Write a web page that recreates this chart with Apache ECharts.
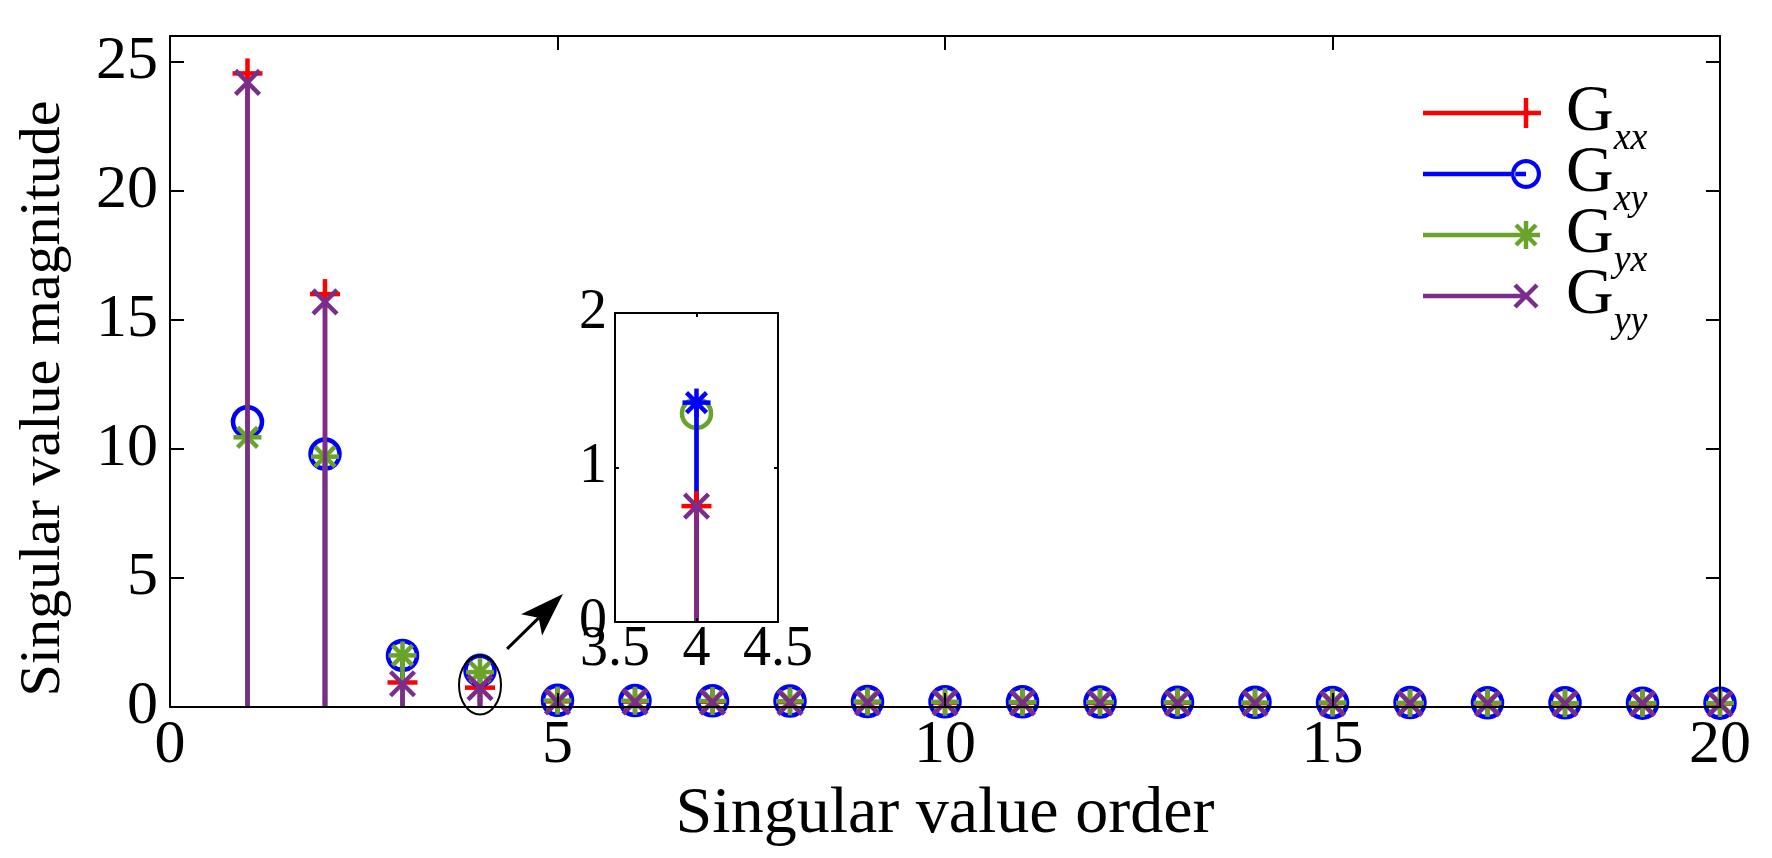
<!DOCTYPE html>
<html><head><meta charset="utf-8">
<script src="https://cdn.jsdelivr.net/npm/echarts@6/dist/echarts.min.js"></script>
<style>html,body{margin:0;padding:0;background:#fff}#c{width:1772px;height:858px}</style>
</head><body><div id="c"></div>
<script>
// ---------------- data ----------------
const orders = [1,2,3,4,5,6,7,8,9,10,11,12,13,14,15,16,17,18,19,20];
const Gxx = [24.55,16.0,0.95,0.75,0.22,0.21,0.20,0.19,0.18,0.17,0.17,0.16,0.16,0.15,0.15,0.14,0.14,0.14,0.13,0.13];
const Gxy = [11.05,9.8,2.0,1.42,0.26,0.25,0.24,0.23,0.21,0.20,0.20,0.19,0.18,0.18,0.17,0.17,0.16,0.16,0.15,0.15];
const Gyx = [10.45,9.7,2.0,1.35,0.25,0.24,0.23,0.22,0.21,0.20,0.19,0.19,0.18,0.17,0.17,0.16,0.16,0.15,0.15,0.15];
const Gyy = [24.2,15.7,0.9,0.75,0.20,0.20,0.19,0.18,0.17,0.17,0.16,0.16,0.15,0.15,0.14,0.14,0.13,0.13,0.13,0.12];
const seriesNames = ['Gxx','Gxy','Gyx','Gyy'];
const insetOrder = 4;              // the zoomed singular value order
const insetXRange = [3.5, 4.5];
const insetYRange = [0, 2];
// annotation anchors (data coords of main plot)
const ellipseCenter = [4, 0.85];
const arrowFrom = [4.35, 2.25];
const arrowTo = [5.07, 4.38];

// ---------------- style ----------------
const FONT = '"Liberation Serif", "Times New Roman", serif';
const COLORS = {Gxx:'#ff0000', Gxy:'#0000ff', Gyx:'#6aa329', Gyy:'#7a2e8c'};
const MAIN_MARK = {Gxx:'plus', Gxy:'circle', Gyx:'star', Gyy:'cross'};
const INSET_MARK = {Gxx:'plus', Gxy:'star', Gyx:'circle', Gyy:'cross'};
const LW = 4.5;

function ln(x1,y1,x2,y2,color){
  return {type:'line', shape:{x1,y1,x2,y2}, style:{stroke:color, lineWidth:LW}};
}
function markerShapes(type, cx, cy, color){
  if (type === 'plus') { const h=15; return [ln(cx-h,cy,cx+h,cy,color), ln(cx,cy-h,cx,cy+h,color)]; }
  if (type === 'cross') { const h=12; return [ln(cx-h,cy-h,cx+h,cy+h,color), ln(cx-h,cy+h,cx+h,cy-h,color)]; }
  if (type === 'star') { const h=14, d=10; return [ln(cx-h,cy,cx+h,cy,color), ln(cx,cy-h,cx,cy+h,color), ln(cx-d,cy-d,cx+d,cy+d,color), ln(cx-d,cy+d,cx+d,cy-d,color)]; }
  return [{type:'circle', shape:{cx,cy,r:14.5}, style:{fill:'none', stroke:color, lineWidth:LW}}];
}
function makeRender(color, marker){
  return function(params, api){
    const x = api.value(0), y = api.value(1);
    const b = api.coord([x, 0]);
    const t = api.coord([x, y]);
    return {type:'group', children:[ln(b[0],b[1],t[0],t[1],color)].concat(markerShapes(marker,t[0],t[1],color))};
  };
}

// legend icons (line + marker) as filled paths
const IW = 118, IH = 30, ICX = 103, ICY = 15;
function seg(x1,y1,x2,y2,t){
  const dx=x2-x1, dy=y2-y1, L=Math.hypot(dx,dy);
  const nx=-dy/L*t/2, ny=dx/L*t/2;
  return `M${x1+nx},${y1+ny}L${x2+nx},${y2+ny}L${x2-nx},${y2-ny}L${x1-nx},${y1-ny}Z`;
}
function circ(cx,cy,r,dir){
  let s=''; const N=48;
  for(let k=0;k<=N;k++){ const a=dir*2*Math.PI*k/N; s += (k?'L':'M')+(cx+r*Math.cos(a)).toFixed(2)+','+(cy+r*Math.sin(a)).toFixed(2); }
  return s+'Z';
}
function legendIcon(type){
  const frame = `M0,0L0,0L0,0Z M${IW},${IH}L${IW},${IH}L${IW},${IH}Z `;
  let p = frame;
  const t = 4.5;
  if (type === 'circle') {
    p += seg(0,ICY,ICX-15,ICY,t) + seg(ICX-11.5,ICY,ICX,ICY,t) + circ(ICX,ICY,15,1) + circ(ICX,ICY,10.8,-1);
  } else {
    p += seg(0,ICY,ICX,ICY,t);
    if (type === 'plus') p += seg(ICX-15,ICY,ICX+15,ICY,t) + seg(ICX,0,ICX,IH,t);
    if (type === 'cross') p += seg(ICX-11,ICY-11,ICX+11,ICY+11,t) + seg(ICX-11,ICY+11,ICX+11,ICY-11,t);
    if (type === 'star') p += seg(ICX-14,ICY,ICX+14,ICY,t) + seg(ICX,ICY-14,ICX,ICY+14,t) + seg(ICX-10,ICY-10,ICX+10,ICY+10,t) + seg(ICX-10,ICY+10,ICX+10,ICY-10,t);
  }
  return 'path://' + p;
}

const valuesByName = {Gxx, Gxy, Gyx, Gyy};
const mainSeries = seriesNames.map(n => ({
  name: n, type:'custom', coordinateSystem:'cartesian2d', xAxisIndex:0, yAxisIndex:0,
  encode:{x:0, y:1}, clip:false, z:2,
  itemStyle:{color:COLORS[n]},
  renderItem: makeRender(COLORS[n], MAIN_MARK[n]),
  data: orders.map((o,i) => [o, valuesByName[n][i]])
}));
const idx = orders.indexOf(insetOrder);
const insetSeries = ['Gyx','Gxy','Gxx','Gyy'].map(n => ({
  name: 'inset ' + n, type:'custom', coordinateSystem:'cartesian2d', xAxisIndex:2, yAxisIndex:2,
  encode:{x:0, y:1}, clip:false, z:2,
  itemStyle:{color:COLORS[n]},
  renderItem: makeRender(COLORS[n], INSET_MARK[n]),
  data: [[orders[idx], valuesByName[n][idx]]]
}));

const axLine = {show:true, onZero:false, lineStyle:{color:'#000', width:2}};
const tickIn = (len) => ({show:true, inside:true, length:len, lineStyle:{color:'#000', width:2}});

const option = {
  animation:false,
  backgroundColor:'#fff',
  grid:[
    {left:170, top:36, width:1550, height:671, show:false},
    {left:615, top:313, width:163, height:309, show:true, backgroundColor:'#fff', borderWidth:0}
  ],
  xAxis:[
    {gridIndex:0, type:'value', min:0, max:20, interval:5, position:'bottom', z:10,
     axisLine:axLine, axisTick:tickIn(14), splitLine:{show:false},
     axisLabel:{fontSize:62, fontFamily:FONT, color:'#000', margin:8},
     name:'Singular value order', nameLocation:'middle', nameGap:72,
     nameTextStyle:{fontSize:66, fontFamily:FONT, color:'#000'}},
    {gridIndex:0, type:'value', min:0, max:20, interval:5, position:'top', z:10,
     axisLine:axLine, axisTick:tickIn(14), splitLine:{show:false}, axisLabel:{show:false}},
    {gridIndex:1, type:'value', min:insetXRange[0], max:insetXRange[1], interval:0.5, position:'bottom', z:10,
     axisLine:axLine, axisTick:tickIn(4), splitLine:{show:false},
     axisLabel:{fontSize:56, fontFamily:FONT, color:'#000', margin:0}},
    {gridIndex:1, type:'value', min:insetXRange[0], max:insetXRange[1], interval:0.5, position:'top', z:10,
     axisLine:axLine, axisTick:tickIn(4), splitLine:{show:false}, axisLabel:{show:false}}
  ],
  yAxis:[
    {gridIndex:0, type:'value', min:0, max:26, interval:5, position:'left', z:10,
     axisLine:axLine, axisTick:tickIn(14), splitLine:{show:false},
     axisLabel:{fontSize:62, fontFamily:FONT, color:'#000', margin:12, showMaxLabel:false,
       formatter: v => (v % 5 === 0 ? String(v) : '')},
     name:'Singular value magnitude', nameLocation:'middle', nameGap:97,
     nameTextStyle:{fontSize:58, fontFamily:FONT, color:'#000', padding:[0,54,0,0]}},
    {gridIndex:0, type:'value', min:0, max:26, interval:5, position:'right', z:10,
     axisLine:axLine, axisTick:tickIn(14), splitLine:{show:false}, axisLabel:{show:false}},
    {gridIndex:1, type:'value', min:insetYRange[0], max:insetYRange[1], interval:1, position:'left', z:10,
     axisLine:axLine, axisTick:tickIn(4), splitLine:{show:false},
     axisLabel:{fontSize:56, fontFamily:FONT, color:'#000', margin:8}},
    {gridIndex:1, type:'value', min:insetYRange[0], max:insetYRange[1], interval:1, position:'right', z:10,
     axisLine:axLine, axisTick:tickIn(4), splitLine:{show:false}, axisLabel:{show:false}}
  ],
  legend:{
    orient:'vertical', left:1423, top:80, padding:0, itemGap:-17, selectedMode:false,
    itemWidth:IW, itemHeight:IH,
    data: seriesNames.map(n => ({name:n, icon:legendIcon(MAIN_MARK[n]), itemStyle:{color:COLORS[n], borderWidth:0}})),
    formatter: n => `{g|G}{s|${n.slice(1)}}`,
    textStyle:{rich:{
      g:{fontFamily:FONT, fontSize:66, color:'#000', lineHeight:40, verticalAlign:'middle', padding:[0,0,0,20]},
      s:{fontFamily:FONT, fontSize:38, fontStyle:'italic', color:'#000', verticalAlign:'middle', padding:[52,0,0,0]}
    }}
  },
  series: mainSeries.concat(insetSeries)
};

const chart = echarts.init(document.getElementById('c'), null, {renderer:'canvas'});
chart.setOption(option);

// annotations: ellipse around the zoomed point and arrow towards the inset
const ec = chart.convertToPixel({gridIndex:0}, ellipseCenter);
const af = chart.convertToPixel({gridIndex:0}, arrowFrom);
const at = chart.convertToPixel({gridIndex:0}, arrowTo);
const ux = at[0]-af[0], uy = at[1]-af[1], ul = Math.hypot(ux,uy);
const dx = ux/ul, dy = uy/ul, nx = -dy, ny = dx;
const HL = 44, HW = 15, NOTCH = 10;
const base = [at[0]-dx*HL, at[1]-dy*HL];
const notch = [at[0]-dx*(HL-NOTCH), at[1]-dy*(HL-NOTCH)];
chart.setOption({graphic:[
  {type:'ellipse', shape:{cx:ec[0], cy:ec[1], rx:21, ry:29.5}, style:{fill:'none', stroke:'#000', lineWidth:2}, z:20},
  {type:'line', shape:{x1:af[0], y1:af[1], x2:notch[0], y2:notch[1]}, style:{stroke:'#000', lineWidth:3}, z:20},
  {type:'polygon', shape:{points:[at, [base[0]+nx*HW, base[1]+ny*HW], notch, [base[0]-nx*HW, base[1]-ny*HW]]}, style:{fill:'#000'}, z:20}
]});
</script>
</body></html>
